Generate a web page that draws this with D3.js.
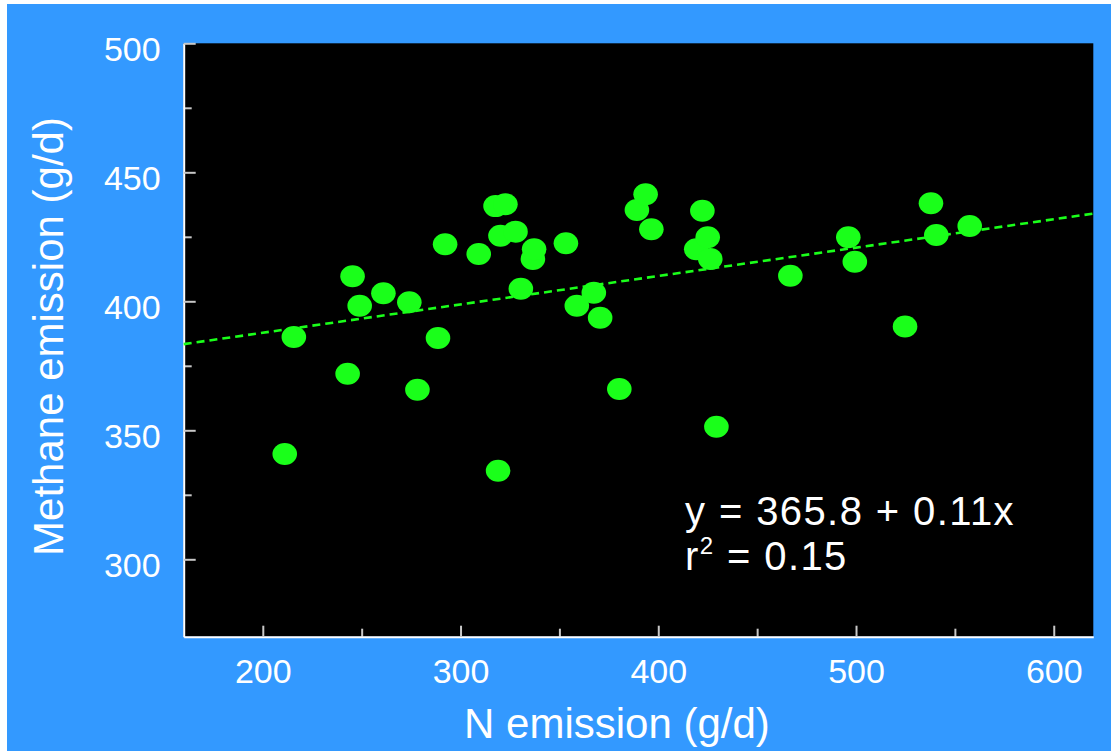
<!DOCTYPE html>
<html>
<head>
<meta charset="utf-8">
<script src="https://cdn.jsdelivr.net/npm/d3@7"></script>
<style>
  body { margin: 0; background: #fff; }
  svg { display: block; font-family: "Liberation Sans", Arial, sans-serif; }
</style>
</head>
<body>
<svg width="1111" height="751"></svg>
<script>
// N emission (g/d) per cow
const nEmission = [
  211.1, 215.7, 242.9, 245.4, 249.0, 261.0, 274.1, 278.2, 288.6, 292.2,
  309.2, 317.7, 319.0, 320.2, 322.7, 327.8, 330.5, 336.6, 337.2, 353.3,
  358.8, 367.4, 370.6, 380.3, 389.2, 393.6, 396.5, 419.2, 422.3, 425.0,
  426.3, 429.4, 466.8, 496.1, 499.4, 524.8, 537.9, 540.6, 557.5
];
// Methane emission (g/d) per cow
const methaneEmission = [
  340.8, 386.2, 371.9, 409.7, 398.3, 403.1, 399.6, 365.7, 385.8, 422.1,
  418.3, 436.9, 334.3, 425.4, 437.6, 427.0, 404.9, 416.4, 420.2, 422.5,
  398.3, 403.3, 393.6, 366.0, 435.4, 441.5, 427.9, 420.2, 435.1, 424.8,
  416.4, 351.4, 409.9, 424.8, 415.3, 390.2, 438.0, 425.7, 429.2
];

const xTicks = [200, 300, 400, 500, 600];
const xMinorTicks = [250, 350, 450, 550];
const yTicks = [300, 350, 400, 450, 500];
const yMinorTicks = [325, 375, 425, 475];

const fitIntercept = 365.8;
const fitSlope = 0.11;
const fitLabel = 'y = 365.8 + 0.11x';
const r2Value = '0.15';

const xTitle = 'N emission (g/d)';
const yTitle = 'Methane emission (g/d)';

const green = '#1aff1a';

const svg = d3.select('svg');
const W = +svg.attr('width');
const H = +svg.attr('height');
const margin = {top: 43.3, right: 17.7, bottom: 114.3, left: 183.7};
const width = W - margin.left - margin.right;
const height = H - margin.top - margin.bottom;

// blue slide background with thin white border on top/left
svg.append('rect').attr('width', W).attr('height', H).attr('fill', '#fff');
svg.append('rect').attr('x', 7).attr('y', 4).attr('width', W - 7).attr('height', H - 4).attr('fill', '#3399ff');

const g = svg.append('g').attr('transform', `translate(${margin.left},${margin.top})`);
g.append('rect').attr('width', width).attr('height', height).attr('fill', '#000');

const x = d3.scaleLinear().domain([160, 620]).range([0, width]);
const y = d3.scaleLinear().domain([270, 500]).range([height, 0]);

// minor ticks first
g.append('g')
  .attr('transform', `translate(0,${height})`)
  .call(d3.axisBottom(x).tickValues(xMinorTicks).tickSize(-8).tickFormat(''))
  .call(a => a.select('.domain').remove());
g.append('g')
  .call(d3.axisLeft(y).tickValues(yMinorTicks).tickSize(-8).tickFormat(''))
  .call(a => a.select('.domain').remove());

const xAxis = g.append('g')
  .attr('transform', `translate(0,${height})`)
  .call(d3.axisBottom(x).tickValues(xTicks).tickSize(-11).tickSizeOuter(0).tickPadding(22));
const yAxis = g.append('g')
  .call(d3.axisLeft(y).tickValues(yTicks).tickSize(-12).tickSizeOuter(0).tickPadding(23));

yAxis.selectAll('text').attr('dy', '0.5em');

g.selectAll('.tick line').attr('stroke', '#c8c8c8').attr('stroke-width', 2);
g.selectAll('.tick text').attr('fill', '#fff').attr('font-size', 34).attr('font-family', '"Liberation Sans", Arial, sans-serif');
[xAxis, yAxis].forEach(a => a.select('.domain').attr('stroke', '#fff').attr('stroke-width', 2));

// regression line across the x domain
const fit = x.domain().map(v => ({x: v, y: fitIntercept + fitSlope * v}));
g.append('path')
  .datum(fit)
  .attr('fill', 'none')
  .attr('stroke', green)
  .attr('stroke-width', 2.6)
  .attr('stroke-dasharray', '8,5')
  .attr('d', d3.line().x(d => x(d.x)).y(d => y(d.y)));

// points
g.append('g')
  .selectAll('ellipse')
  .data(nEmission.map((v, i) => ({x: v, y: methaneEmission[i]})))
  .enter()
  .append('ellipse')
  .attr('cx', d => x(d.x))
  .attr('cy', d => y(d.y))
  .attr('rx', 12.3)
  .attr('ry', 11)
  .attr('fill', green);

// equation
const eq = svg.append('g').attr('fill', '#fff').attr('font-size', 40).attr('letter-spacing', 1.4);
eq.append('text').attr('x', 685).attr('y', 525).text(fitLabel);
const r2 = eq.append('text').attr('x', 685).attr('y', 570);
r2.append('tspan').text('r');
r2.append('tspan').attr('font-size', 24).attr('dy', -16).text('2');
r2.append('tspan').attr('dy', 16).text(' = ' + r2Value);

// axis titles
svg.append('text')
  .attr('x', 617).attr('y', 738)
  .attr('text-anchor', 'middle')
  .attr('fill', '#fff').attr('font-size', 42)
  .text(xTitle);
svg.append('text')
  .attr('transform', 'translate(63,336.5) rotate(-90)')
  .attr('text-anchor', 'middle')
  .attr('fill', '#fff').attr('font-size', 42)
  .text(yTitle);
</script>
</body>
</html>
